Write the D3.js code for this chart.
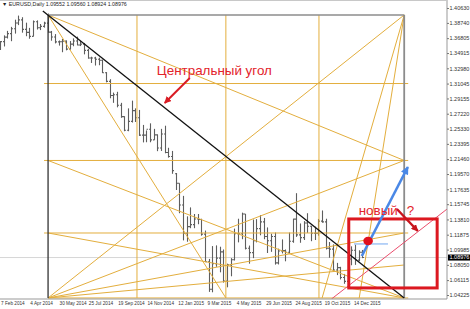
<!DOCTYPE html>
<html>
<head>
<meta charset="UTF-8">
<title>EURUSD Daily</title>
<style>
    body { margin: 0; background: #fff; }
    svg { display: block; }
    text { font-family: 'Liberation Sans', Arial, sans-serif; }
</style>
</head>
<body>
<svg width="470" height="309"></svg>
<script src="https://d3js.org/d3.v7.min.js"></script>
<script>
// weekly bars
let weekStart = [
    "2014-02-03","2014-02-10","2014-02-17","2014-02-24","2014-03-03","2014-03-10","2014-03-17","2014-03-24","2014-03-31","2014-04-07",
    "2014-04-14","2014-04-21","2014-04-28","2014-05-05","2014-05-12","2014-05-19","2014-05-26","2014-06-02","2014-06-09","2014-06-16",
    "2014-06-23","2014-06-30","2014-07-07","2014-07-14","2014-07-21","2014-07-28","2014-08-04","2014-08-11","2014-08-18","2014-08-25",
    "2014-09-01","2014-09-08","2014-09-15","2014-09-22","2014-09-29","2014-10-06","2014-10-13","2014-10-20","2014-10-27","2014-11-03",
    "2014-11-10","2014-11-17","2014-11-24","2014-12-01","2014-12-08","2014-12-15","2014-12-22","2014-12-29","2015-01-05","2015-01-12",
    "2015-01-19","2015-01-26","2015-02-02","2015-02-09","2015-02-16","2015-02-23","2015-03-02","2015-03-09","2015-03-16","2015-03-23",
    "2015-03-30","2015-04-06","2015-04-13","2015-04-20","2015-04-27","2015-05-04","2015-05-11","2015-05-18","2015-05-25","2015-06-01",
    "2015-06-08","2015-06-15","2015-06-22","2015-06-29","2015-07-06","2015-07-13","2015-07-20","2015-07-27","2015-08-03","2015-08-10",
    "2015-08-17","2015-08-24","2015-08-31","2015-09-07","2015-09-14","2015-09-21","2015-09-28","2015-10-05","2015-10-12","2015-10-19",
    "2015-10-26","2015-11-02","2015-11-09","2015-11-16","2015-11-23","2015-11-30","2015-12-07","2015-12-14","2015-12-21","2015-12-28"
];
let opens = [
    1.3540,1.3636,1.3693,1.3738,1.3800,1.3873,1.3912,1.3792,1.3754,1.3703,
    1.3888,1.3812,1.3830,1.3871,1.3757,1.3696,1.3633,1.3635,1.3643,1.3541,
    1.3605,1.3644,1.3593,1.3605,1.3525,1.3429,1.3429,1.3413,1.3400,1.3241,
    1.3132,1.2953,1.2962,1.2830,1.2685,1.2512,1.2625,1.2761,1.2671,1.2450,
    1.2450,1.2525,1.2390,1.2453,1.2287,1.2465,1.2230,1.2180,1.1960,1.1840,
    1.1565,1.1205,1.1290,1.1315,1.1387,1.1380,1.1195,1.0845,1.0495,1.0820,
    1.0890,1.0970,1.0600,1.0805,1.0870,1.1200,1.1200,1.1450,1.1015,1.0960,
    1.1110,1.1265,1.1350,1.1165,1.1110,1.1165,1.0830,1.0980,1.0985,1.0965,
    1.1105,1.1385,1.1185,1.1150,1.1335,1.1295,1.1205,1.1205,1.1360,1.1350,
    1.1015,1.1005,1.0740,1.0770,1.0645,1.0595,1.0880,1.0990,1.0865,1.0965
];
let highs = [
    1.3643,1.3716,1.3773,1.3824,1.3915,1.3967,1.3946,1.3877,1.3811,1.3905,
    1.3906,1.3860,1.3889,1.3993,1.3772,1.3732,1.3651,1.3670,1.3652,1.3644,
    1.3678,1.3700,1.3643,1.3620,1.3545,1.3445,1.3444,1.3433,1.3408,1.3250,
    1.3160,1.2990,1.3000,1.2860,1.2690,1.2790,1.2888,1.2790,1.2770,1.2580,
    1.2510,1.2600,1.2530,1.2460,1.2530,1.2570,1.2290,1.2250,1.1970,1.1840,
    1.1680,1.1420,1.1534,1.1450,1.1450,1.1390,1.1240,1.0880,1.1043,1.1052,
    1.1035,1.1000,1.0820,1.0890,1.1265,1.1390,1.1467,1.1450,1.1050,1.1380,
    1.1385,1.1436,1.1400,1.1280,1.1200,1.1215,1.1010,1.1128,1.1000,1.1215,
    1.1390,1.1714,1.1330,1.1360,1.1460,1.1300,1.1290,1.1387,1.1495,1.1390,
    1.1095,1.1065,1.0830,1.0780,1.0690,1.0980,1.1040,1.1060,1.0990,1.0994
];
let lows = [
    1.3530,1.3575,1.3676,1.3642,1.3738,1.3846,1.3750,1.3705,1.3673,1.3703,
    1.3790,1.3783,1.3814,1.3750,1.3648,1.3614,1.3586,1.3502,1.3526,1.3536,
    1.3578,1.3590,1.3580,1.3475,1.3420,1.3366,1.3333,1.3337,1.3238,1.3120,
    1.2918,1.2860,1.2803,1.2670,1.2500,1.2500,1.2610,1.2617,1.2440,1.2358,
    1.2360,1.2360,1.2390,1.2247,1.2250,1.2220,1.2165,1.1960,1.1754,1.1460,
    1.1115,1.1098,1.1270,1.1270,1.1320,1.1175,1.0840,1.0462,1.0457,1.0780,
    1.0710,1.0580,1.0520,1.0660,1.0860,1.1090,1.1130,1.1000,1.0820,1.0890,
    1.1090,1.1180,1.1130,1.0955,1.0970,1.0808,1.0810,1.0950,1.0850,1.0950,
    1.1085,1.1160,1.1085,1.1120,1.1210,1.1105,1.1120,1.1175,1.1340,1.1000,
    1.0895,1.0720,1.0675,1.0620,1.0565,1.0524,1.0800,1.0805,1.0850,1.0890
];
let closes = [
    1.3636,1.3693,1.3738,1.3800,1.3873,1.3912,1.3792,1.3754,1.3703,1.3888,
    1.3812,1.3830,1.3871,1.3757,1.3696,1.3633,1.3635,1.3643,1.3541,1.3605,
    1.3644,1.3593,1.3605,1.3525,1.3429,1.3429,1.3413,1.3400,1.3241,1.3132,
    1.2953,1.2962,1.2830,1.2685,1.2512,1.2625,1.2761,1.2671,1.2450,1.2450,
    1.2525,1.2390,1.2453,1.2287,1.2465,1.2230,1.2180,1.2000,1.1840,1.1565,
    1.1205,1.1290,1.1315,1.1387,1.1380,1.1195,1.0845,1.0495,1.0820,1.0890,
    1.0970,1.0600,1.0805,1.0870,1.1200,1.1200,1.1450,1.1015,1.0960,1.1110,
    1.1265,1.1350,1.1165,1.1110,1.1165,1.0830,1.0980,1.0985,1.0965,1.1105,
    1.1385,1.1185,1.1150,1.1335,1.1295,1.1205,1.1205,1.1360,1.1350,1.1015,
    1.1005,1.0740,1.0770,1.0645,1.0595,1.0880,1.0990,1.0865,1.0965,1.0898
];

let priceTicks = [1.40630, 1.38740, 1.36805, 1.34915, 1.32980, 1.31045, 1.29155, 1.27220, 1.25330, 1.23395,
    1.21460, 1.19570, 1.17635, 1.15745, 1.13810, 1.11875, 1.09985, 1.08050, 1.06115, 1.04225];
let dateTicks = ["2014-02-07", "2014-04-04", "2014-05-30", "2014-07-25", "2014-09-19", "2014-11-14", "2015-01-12",
    "2015-03-09", "2015-05-04", "2015-06-29", "2015-08-24", "2015-10-19", "2015-12-14"];
let lastPrice = 1.08976;
let title = "\u25BC EURUSD,Daily  1.09552 1.09560 1.08924 1.08976";

// Gann box
let gannStart = "2014-05-08", gannEnd = "2016-03-19";
let gannHigh = 1.3975, gannLow = 1.0385;
let gannTimeLines = ["2014-10-25", "2015-04-13", "2015-10-08"];
let gannPriceLines = [1.3105, 1.2129, 1.1209];
let fanLines = [
    [[gannStart, gannHigh], [gannEnd, 1.2129]],
    [[gannStart, gannHigh], ["2015-04-13", gannLow]],
    [[gannEnd, gannHigh], [gannStart, gannLow]],
    [[gannEnd, gannHigh], ["2015-10-14", gannLow]],
    [[gannEnd, gannHigh], ["2015-12-24", gannLow]],
    [[gannStart, gannLow], [gannEnd, 1.2129]],
    [[gannStart, gannLow], [gannEnd, 1.1209]],
    [[gannStart, gannLow], [gannEnd, 1.0803]],
    [[gannEnd, gannLow], [gannStart, 1.2129]],
    [[gannEnd, gannLow], [gannStart, 1.1209]]
];
let centralLine = [["2014-04-28", 1.4026], [gannEnd, gannLow]];

// annotations
let centralLabel = { text: "Центральный угол", at: ["2014-12-02", 1.3213] };
let centralArrow = [["2015-02-03", 1.3175], ["2014-12-17", 1.2858]];
let newLabel = { text: "новый", at: ["2015-12-23", 1.1437] };
let questionLabel = { text: "?", at: ["2016-03-24", 1.1437] };
let newArrow = [["2016-03-05", 1.1513], ["2016-04-14", 1.1234]];
let blueArrow = [["2015-12-29", 1.0917], ["2016-03-26", 1.2046]];
let redDot = ["2016-01-10", 1.1108];
let blueLevel = [["2015-12-14", 1.1070], ["2016-02-17", 1.1070]];
let redBox = [["2015-12-04", 1.1387], ["2016-05-21", 1.0512]];
let newAngle = [["2015-11-01", 1.0372], ["2016-06-09", 1.1513]];

let width = 470, height = 309;
let plotRight = 447, plotBottom = 299;
let svg = d3.select("svg");
let parse = d3.timeParse("%Y-%m-%d");

let x = d3.scaleTime()
    .domain([parse("2014-02-07"), parse("2015-12-14")])
    .range([1, 354]);
let y = d3.scaleLinear()
    .domain([1.04225, 1.40630])
    .range([295, 8]);

let px = p => [x(parse(p[0])), y(p[1])];

svg.append("rect").attr("width", width).attr("height", height).attr("fill", "#fff");

svg.append("defs").append("clipPath").attr("id", "plot")
    .append("rect").attr("width", plotRight).attr("height", plotBottom);

// current price line
svg.append("line")
    .attr("x1", 0).attr("x2", plotRight)
    .attr("y1", y(lastPrice)).attr("y2", y(lastPrice))
    .attr("stroke", "#d6d6d6");

// price bars
let bars = svg.append("g").attr("clip-path", "url(#plot)")
    .attr("stroke", "#5e5e5e").attr("stroke-width", 1.1);
weekStart.forEach((w, i) => {
    let cx = Math.round(x(d3.timeDay.offset(parse(w), 2))) + 0.5;
    bars.append("line").attr("x1", cx).attr("x2", cx).attr("y1", y(highs[i])).attr("y2", y(lows[i]));
    bars.append("line").attr("x1", cx - 1.5).attr("x2", cx).attr("y1", y(opens[i])).attr("y2", y(opens[i]));
    bars.append("line").attr("x1", cx).attr("x2", cx + 1.5).attr("y1", y(closes[i])).attr("y2", y(closes[i]));
});

// gann grid
let gold = "#e3ae3d";
let gann = svg.append("g").attr("clip-path", "url(#plot)");
let bx0 = x(parse(gannStart)), bx1 = x(parse(gannEnd));
let by0 = y(gannHigh), by1 = y(gannLow);

gann.selectAll(".vline").data(gannTimeLines).enter().append("line")
    .attr("x1", d => x(parse(d))).attr("x2", d => x(parse(d)))
    .attr("y1", by0).attr("y2", by1)
    .attr("stroke", gold);

gann.selectAll(".hline").data(gannPriceLines).enter().append("line")
    .attr("x1", bx0 - 4).attr("x2", bx1 + 4)
    .attr("y1", d => y(d)).attr("y2", d => y(d))
    .attr("stroke", gold);

gann.append("line").attr("x1", bx0).attr("x2", bx1 + 4).attr("y1", by1).attr("y2", by1)
    .attr("stroke", gold);

gann.selectAll(".fan").data(fanLines).enter().append("line")
    .attr("x1", d => px(d[0])[0]).attr("y1", d => px(d[0])[1])
    .attr("x2", d => px(d[1])[0]).attr("y2", d => px(d[1])[1])
    .attr("stroke", gold);

// box frame
gann.append("line").attr("x1", bx0).attr("x2", bx1).attr("y1", by0).attr("y2", by0)
    .attr("stroke", "#8c8c8c").attr("stroke-width", 1.6);
gann.append("line").attr("x1", bx1).attr("x2", bx1).attr("y1", by0).attr("y2", by1)
    .attr("stroke", "#8c8c8c").attr("stroke-width", 1.8);
gann.append("line").attr("x1", bx0).attr("x2", bx0).attr("y1", by0).attr("y2", by1)
    .attr("stroke", "#333").attr("stroke-width", 1.3);

gann.append("line")
    .attr("x1", px(centralLine[0])[0]).attr("y1", px(centralLine[0])[1])
    .attr("x2", px(centralLine[1])[0]).attr("y2", px(centralLine[1])[1])
    .attr("stroke", "#111").attr("stroke-width", 1.3);

// annotations
let defs = svg.select("defs");
function marker(id, color, len, wid) {
    defs.append("marker").attr("id", id)
        .attr("markerUnits", "userSpaceOnUse")
        .attr("viewBox", "0 0 10 10").attr("refX", 9).attr("refY", 5)
        .attr("markerWidth", len).attr("markerHeight", wid)
        .attr("orient", "auto")
        .append("path").attr("d", "M0,0 L10,5 L0,10 z").attr("fill", color);
}
marker("ar-red", "#d91c24", 7, 7);
marker("ar-dred", "#c8141c", 7, 7);
marker("ar-blue", "#4a88e6", 9, 8);

let notes = svg.append("g").attr("clip-path", "url(#plot)");

notes.append("line")
    .attr("x1", px(newAngle[0])[0]).attr("y1", px(newAngle[0])[1])
    .attr("x2", px(newAngle[1])[0]).attr("y2", px(newAngle[1])[1])
    .attr("stroke", "#ea4d6c").attr("stroke-width", 1);

notes.append("rect")
    .attr("x", px(redBox[0])[0]).attr("y", px(redBox[0])[1])
    .attr("width", px(redBox[1])[0] - px(redBox[0])[0])
    .attr("height", px(redBox[1])[1] - px(redBox[0])[1])
    .attr("fill", "none").attr("stroke", "#dc1820").attr("stroke-width", 3);

notes.append("line")
    .attr("x1", px(blueLevel[0])[0]).attr("y1", px(blueLevel[0])[1])
    .attr("x2", px(blueLevel[1])[0]).attr("y2", px(blueLevel[1])[1])
    .attr("stroke", "#72a8f0").attr("stroke-width", 1);

notes.append("line")
    .attr("x1", px(blueArrow[0])[0]).attr("y1", px(blueArrow[0])[1])
    .attr("x2", px(blueArrow[1])[0]).attr("y2", px(blueArrow[1])[1])
    .attr("stroke", "#4a88e6").attr("stroke-width", 2.6)
    .attr("marker-end", "url(#ar-blue)");

notes.append("ellipse")
    .attr("cx", px(redDot)[0]).attr("cy", px(redDot)[1])
    .attr("rx", 4.8).attr("ry", 4.2)
    .attr("fill", "#e0101c");

notes.append("line")
    .attr("x1", px(centralArrow[0])[0]).attr("y1", px(centralArrow[0])[1])
    .attr("x2", px(centralArrow[1])[0]).attr("y2", px(centralArrow[1])[1])
    .attr("stroke", "#d91c24").attr("stroke-width", 2)
    .attr("marker-end", "url(#ar-red)");

notes.append("line")
    .attr("x1", px(newArrow[0])[0]).attr("y1", px(newArrow[0])[1])
    .attr("x2", px(newArrow[1])[0]).attr("y2", px(newArrow[1])[1])
    .attr("stroke", "#c8141c").attr("stroke-width", 2.4)
    .attr("marker-end", "url(#ar-dred)");

[centralLabel, newLabel, questionLabel].forEach(t => {
    notes.append("text")
        .attr("x", px(t.at)[0]).attr("y", px(t.at)[1])
        .attr("fill", "#e3232b")
        .attr("font-size", 13.4)
        .text(t.text);
});

// axes
let yAxis = d3.axisRight(y)
    .tickValues(priceTicks)
    .tickFormat(d3.format(".5f"))
    .tickSize(2);
let ya = svg.append("g").attr("transform", `translate(${plotRight},0)`).call(yAxis);
ya.select(".domain").attr("stroke", "#999").attr("d", `M0,0V${plotBottom}`);
ya.selectAll(".tick line").attr("stroke", "#777");
ya.selectAll("text").attr("x", 2.5).attr("font-size", 5.5).attr("fill", "#333")
    .attr("font-family", "'Liberation Sans', Arial, sans-serif");

let xAxis = d3.axisBottom(x)
    .tickValues(dateTicks.map(parse))
    .tickFormat(d3.timeFormat("%-d %b %Y"))
    .tickSize(0);
let xa = svg.append("g").attr("transform", `translate(0,${plotBottom})`).call(xAxis);
xa.select(".domain").attr("stroke", "#999").attr("d", `M0,0H${plotRight}`);
xa.selectAll("text").attr("text-anchor", "start").attr("x", -0.5).attr("y", 2.2)
    .attr("font-size", 4.7).attr("fill", "#333")
    .attr("font-family", "'Liberation Sans', Arial, sans-serif");

// last price tag
svg.append("rect")
    .attr("x", plotRight + 1).attr("y", y(lastPrice) - 3)
    .attr("width", width - plotRight - 1).attr("height", 6)
    .attr("fill", "#000");
svg.append("text")
    .attr("x", plotRight + 2.5).attr("y", y(lastPrice)).attr("dy", "0.35em")
    .attr("font-size", 5.5).attr("fill", "#fff")
    .text(d3.format(".5f")(lastPrice));

// top frame and title
svg.append("line").attr("x1", 0).attr("x2", plotRight).attr("y1", 0.5).attr("y2", 0.5)
    .attr("stroke", "#c8c8c8");
svg.append("text")
    .attr("x", 2).attr("y", 5.6)
    .attr("font-size", 5.3).attr("fill", "#222")
    .text(title);
</script>
</body>
</html>
